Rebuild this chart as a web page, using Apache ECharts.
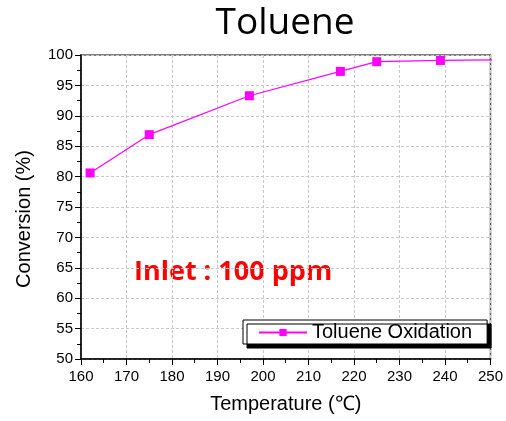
<!DOCTYPE html>
<html><head><meta charset="utf-8">
<script src="https://cdn.jsdelivr.net/npm/echarts@6/dist/echarts.min.js"></script>
<style>html,body{margin:0;padding:0;background:#fff}#c{width:506px;height:421px}</style>
</head><body><div id="c"></div>
<script>
const temperature = [162, 175, 197, 217, 225, 239, 260];
const conversion = [80.6, 86.9, 93.3, 97.3, 98.9, 99.1, 99.3];
const xTicks = [160, 170, 180, 190, 200, 210, 220, 230, 240, 250];
const yTicks = [50, 55, 60, 65, 70, 75, 80, 85, 90, 95, 100];
const seriesName = 'Toluene Oxidation';

const chart = echarts.init(document.getElementById('c'));
chart.setOption({
  animation: false,
  title: {
    text: 'Toluene', left: 280, top: 0, textAlign: 'center',
    textStyle: {fontFamily: 'Open Sans', fontSize: 37, fontWeight: 'normal', color: '#000'}
  },
  grid: {left: 81, right: 12, top: 55, bottom: 62, show: true, borderColor: '#555', borderWidth: 1.5, backgroundColor: 'transparent'},
  legend: {
    data: [seriesName], left: 243, top: 320,
    padding: [2, 15, 1, 15], itemWidth: 48, itemHeight: 9, itemGap: 6,
    backgroundColor: '#fff', borderColor: '#000', borderWidth: 1,
    shadowColor: '#000', shadowBlur: 0, shadowOffsetX: 4, shadowOffsetY: 4,
    textStyle: {fontFamily: 'Liberation Sans', fontSize: 20, color: '#000', lineHeight: 21}
  },
  xAxis: {
    type: 'value', min: xTicks[0], max: xTicks[xTicks.length - 1], interval: 10,
    name: 'Temperature (℃)', nameLocation: 'middle', nameGap: 35,
    nameTextStyle: {fontFamily: 'Liberation Sans', fontSize: 20, color: '#000'},
    axisLine: {lineStyle: {color: '#000', width: 1.5}},
    axisTick: {length: 6, lineStyle: {color: '#000'}},
    minorTick: {show: true, splitNumber: 2, length: 4, lineStyle: {color: '#000'}},
    axisLabel: {fontFamily: 'Liberation Sans', fontSize: 15, color: '#000', margin: 10},
    splitLine: {show: true, lineStyle: {color: '#c8c8c8', type: [3, 2]}}
  },
  yAxis: {
    type: 'value', min: yTicks[0], max: yTicks[yTicks.length - 1], interval: 5,
    axisLine: {show: true, lineStyle: {color: '#000', width: 1.5}},
    axisTick: {show: true, length: 6, lineStyle: {color: '#000'}},
    minorTick: {show: true, splitNumber: 2, length: 4, lineStyle: {color: '#000'}},
    axisLabel: {fontFamily: 'Liberation Sans', fontSize: 15, color: '#000', margin: 8},
    splitLine: {show: true, lineStyle: {color: '#c8c8c8', type: [3, 2]}}
  },
  graphic: [{
    type: 'text', x: 24, y: 219, rotation: Math.PI / 2,
    style: {text: 'Conversion (%)', fill: '#000', font: '20px "Liberation Sans"', align: 'center', verticalAlign: 'middle'}
  }, {
    type: 'text', left: 134, top: 259,
    style: {text: 'Inlet : 100 ppm', fill: '#ff0000', font: 'bold 27px "Open Sans"'}
  }],
  series: [{
    name: seriesName, type: 'line', clip: true,
    data: temperature.map((t, i) => [t, conversion[i]]),
    symbol: 'rect', symbolSize: 9, showAllSymbol: true,
    lineStyle: {color: '#ff00ff', width: 1.2},
    itemStyle: {color: '#ff00ff'}
  }]
});
</script></body></html>
